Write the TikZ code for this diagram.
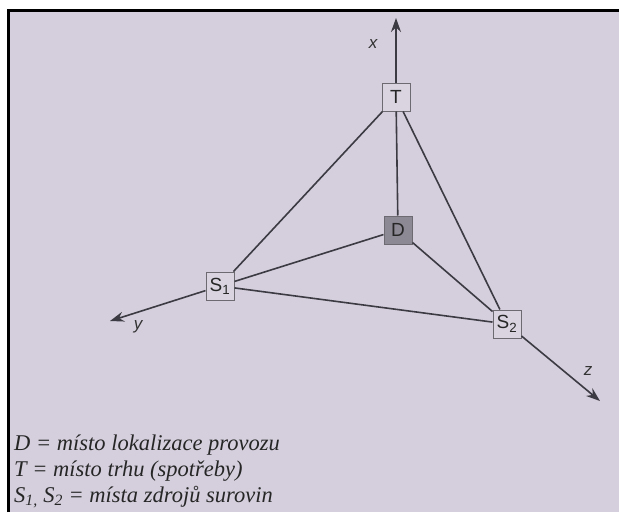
\documentclass[tikz,border=0pt]{standalone}
\usepackage{fontspec}
\setmainfont{Liberation Serif}
\newfontfamily\boxfont{Liberation Sans}
\usetikzlibrary{arrows.meta}
\definecolor{bg}{RGB}{213,207,221}
\definecolor{ln}{RGB}{60,58,66}
\definecolor{dfill}{RGB}{140,136,148}
\begin{document}
\begin{tikzpicture}[x=1pt,y=-1pt,
  place/.style={draw=ln!75,line width=1pt,fill=bg!90!white,minimum width=28pt,minimum height=28pt,inner sep=0pt,font=\boxfont\fontsize{19}{19}\selectfont,text=black!85},
  conn/.style={draw=ln,line width=1.6pt},
  axis/.style={draw=ln,line width=1.6pt,-{Stealth[length=14pt,width=10pt]}},
  axlab/.style={font=\boxfont\itshape\fontsize{17}{17}\selectfont,text=black!80},
  legend/.style={anchor=base west,font=\itshape\fontsize{22.5}{22.5}\selectfont,text=black!85,inner sep=0pt}]
\useasboundingbox (0,0) rectangle (619,512);
\fill[white] (0,0) rectangle (619,512);
\fill[bg] (9,11) rectangle (619,512);
\draw[black,line width=3pt] (8.5,512) -- (8.5,10.5) -- (619,10.5);
% nodes
\node[place] (T) at (396,97) {T};
\node[place,fill=dfill] (D) at (398,230) {D};
\node[place] (S1) at (220,286) {S\textsubscript{1}};
\node[place] (S2) at (507,324) {S\textsubscript{2}};
\coordinate (xt) at (396,18);
\coordinate (yt) at (110,321);
\coordinate (zt) at (600,401);
% connectors
\draw[conn] (T) -- (D);
\draw[conn] (T) -- (S1);
\draw[conn] (T) -- (S2);
\draw[conn] (D) -- (S1);
\draw[conn] (D) -- (S2);
\draw[conn] (S1) -- (S2);
\draw[axis] (T) -- (xt);
\draw[axis] (S1) -- (yt);
\draw[axis] (S2) -- (zt);
% axis labels
\node[axlab] (lx) at (373,44) {x};
\node[axlab] (ly) at (138,327) {y};
\node[axlab] (lz) at (588,371) {z};
% legend
\node[legend] (l1) at (14,450) {D = místo lokalizace provozu};
\node[legend] (l2) at (14,476) {T = místo trhu (spotřeby)};
\node[legend] (l3) at (14,502) {S\textsubscript{\itshape 1,} S\textsubscript{\itshape 2} = místa zdrojů surovin};
\end{tikzpicture}
\end{document}
